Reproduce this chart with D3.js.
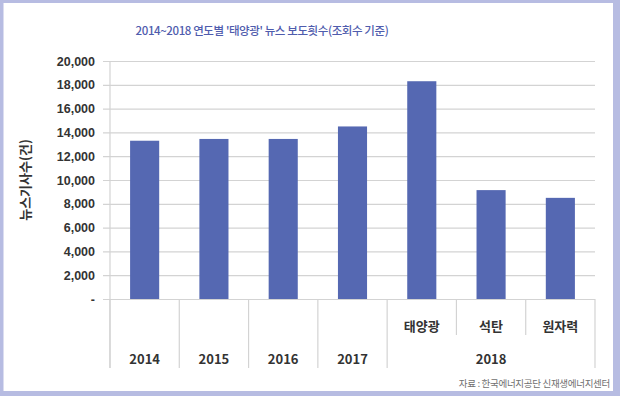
<!DOCTYPE html>
<html>
<head>
<meta charset="utf-8">
<script src="https://cdn.jsdelivr.net/npm/d3@7"></script>
<style>
  body { margin: 0; background: #fff; }
  svg { display: block; font-family: "Noto Sans CJK KR", "Noto Sans", sans-serif; }
</style>
</head>
<body>
<div id="chart"></div>
<script>
// categories (bottom row = year, top row = sub label for 2018)
const categories = ["2014", "2015", "2016", "2017", "태양광", "석탄", "원자력"];
const subLabels = ["", "", "", "", "태양광", "석탄", "원자력"];
const yearGroups = [
  { year: "2014", from: "2014", to: "2014" },
  { year: "2015", from: "2015", to: "2015" },
  { year: "2016", from: "2016", to: "2016" },
  { year: "2017", from: "2017", to: "2017" },
  { year: "2018", from: "태양광", to: "원자력" }
];
const newsCounts = [13300, 13450, 13450, 14500, 18300, 9150, 8500];
const yTicks = [0, 2000, 4000, 6000, 8000, 10000, 12000, 14000, 16000, 18000, 20000];

const W = 620, H = 396;
const margin = { top: 61, right: 25, bottom: 97, left: 110 };
const frameColor = "#b7bce2";

const svg = d3.select("#chart").append("svg")
  .attr("width", W)
  .attr("height", H);

// lavender frame
svg.append("rect").attr("x", 0).attr("y", 0).attr("width", W).attr("height", 3).attr("fill", frameColor);
svg.append("rect").attr("x", 0).attr("y", 391).attr("width", W).attr("height", 5).attr("fill", frameColor);
svg.append("rect").attr("x", 0).attr("y", 0).attr("width", 3.5).attr("height", H).attr("fill", frameColor);
svg.append("rect").attr("x", 613).attr("y", 0).attr("width", 7).attr("height", H).attr("fill", frameColor);

const innerW = W - margin.left - margin.right;
const innerH = H - margin.top - margin.bottom;

const x = d3.scaleBand()
  .domain(categories)
  .range([0, innerW])
  .paddingInner(0)
  .paddingOuter(0);

const y = d3.scaleLinear()
  .domain([0, 20000])
  .range([innerH, 0]);

const g = svg.append("g")
  .attr("transform", `translate(${margin.left},${margin.top})`);

// gridlines + y axis
const yAxis = d3.axisLeft(y)
  .tickValues(yTicks)
  .tickSize(innerW + 7)
  .tickPadding(8)
  .tickFormat(d => d === 0 ? "-" : d3.format(",")(d));

const ya = g.append("g")
  .attr("transform", `translate(${innerW},0)`)
  .call(yAxis);
ya.select(".domain").remove();
ya.selectAll("line").attr("stroke", "#d3d3d3").attr("stroke-width", 1.2);
ya.selectAll("text")
  .attr("fill", "#333")
  .attr("font-size", 12.5)
  .attr("font-weight", 600);

// bars
g.selectAll(".bar")
  .data(newsCounts)
  .enter().append("rect")
  .attr("class", "bar")
  .attr("x", (d, i) => x(categories[i]) + x.bandwidth() * 0.29)
  .attr("width", x.bandwidth() * 0.42)
  .attr("y", d => y(d))
  .attr("height", d => innerH - y(d))
  .attr("fill", "#5568b2");

// category axis: separators
const fullSep = 69, shortSep = 36;
const boundaries = [];
categories.forEach((c, i) => {
  boundaries.push({ pos: x(c), full: i < 5 });
});
boundaries.push({ pos: innerW, full: true });

g.selectAll(".sep")
  .data(boundaries)
  .enter().append("line")
  .attr("x1", d => d.pos).attr("x2", d => d.pos)
  .attr("y1", innerH)
  .attr("y2", d => innerH + (d.full ? fullSep : shortSep))
  .attr("stroke", "#d3d3d3")
  .attr("stroke-width", 1.2);

// left axis line up to top
g.append("line")
  .attr("x1", 0).attr("x2", 0)
  .attr("y1", 0).attr("y2", innerH + fullSep)
  .attr("stroke", "#d3d3d3")
  .attr("stroke-width", 1.2);

// sub labels
g.selectAll(".sub")
  .data(subLabels)
  .enter().append("text")
  .attr("x", (d, i) => x(categories[i]) + x.bandwidth() / 2)
  .attr("y", innerH + 32)
  .attr("text-anchor", "middle")
  .attr("fill", "#333")
  .attr("font-size", 13)
  .attr("font-weight", 600)
  .text(d => d);

// year labels
g.selectAll(".year")
  .data(yearGroups)
  .enter().append("text")
  .attr("x", d => (x(d.from) + x(d.to) + x.bandwidth()) / 2)
  .attr("y", innerH + 65)
  .attr("text-anchor", "middle")
  .attr("fill", "#333")
  .attr("font-size", 13)
  .attr("font-weight", 600)
  .text(d => d.year);

// y axis title
svg.append("text")
  .attr("transform", "translate(30,180) rotate(-90)")
  .attr("text-anchor", "middle")
  .attr("fill", "#333")
  .attr("font-size", 13)
  .attr("font-weight", 600)
  .text("뉴스기사수(건)");

// chart title
svg.append("text")
  .attr("x", 262)
  .attr("y", 35)
  .attr("text-anchor", "middle")
  .attr("fill", "#4f5cad")
  .attr("font-size", 11.5)
  .attr("letter-spacing", -0.4)
  .attr("font-weight", 500)
  .text("2014~2018 연도별 '태양광' 뉴스 보도횟수(조회수 기준)");

// source
svg.append("text")
  .attr("x", 610)
  .attr("y", 387)
  .attr("text-anchor", "end")
  .attr("fill", "#707070")
  .attr("font-size", 9.5)
  .attr("letter-spacing", -0.3)
  .text("자료 : 한국에너지공단 신재생에너지센터");
</script>
</body>
</html>
